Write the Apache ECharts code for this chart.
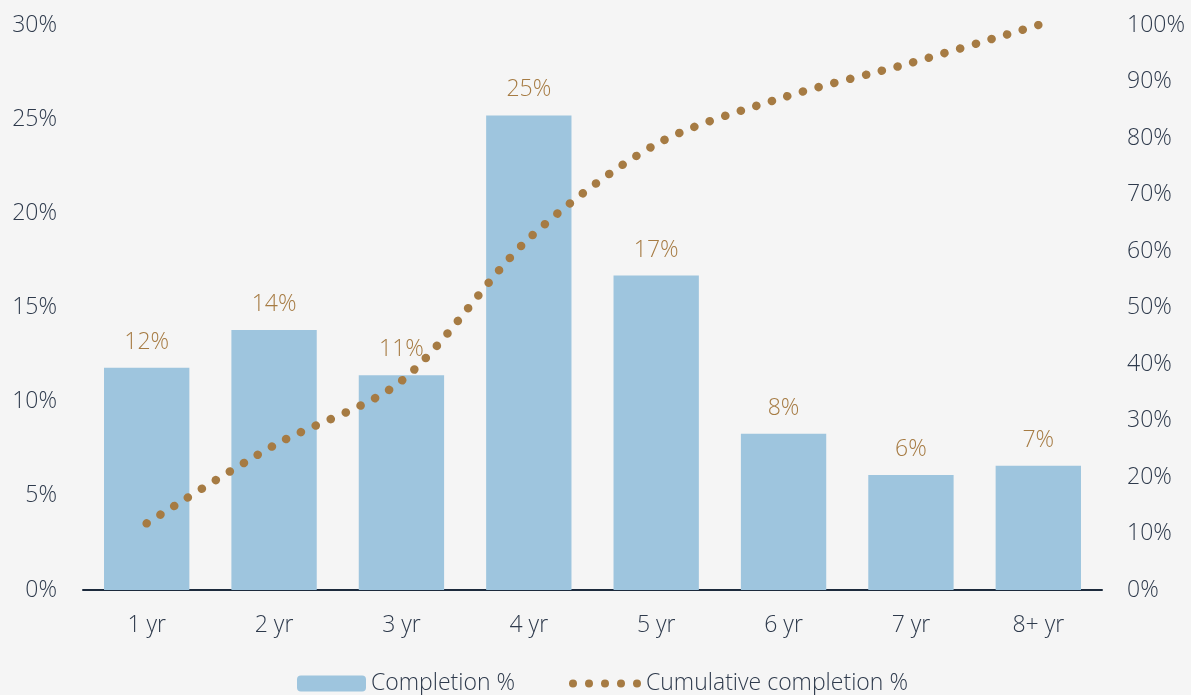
<!DOCTYPE html>
<html>
<head>
<meta charset="utf-8">
<script src="https://cdn.jsdelivr.net/npm/echarts@6/dist/echarts.min.js"></script>
<style>
  html, body { margin: 0; padding: 0; background: #f5f5f5; }
  #chart { width: 1191px; height: 695px; }
</style>
</head>
<body>
<div id="chart"></div>
<script>
// data
const categories = ['1 yr', '2 yr', '3 yr', '4 yr', '5 yr', '6 yr', '7 yr', '8+ yr'];
const completion = [11.8, 13.8, 11.4, 25.2, 16.7, 8.3, 6.1, 6.6];
const cumulative = [11.8, 25.6, 37.0, 62.2, 78.9, 87.2, 93.3, 100];

const textColor = '#2e3a4c';
const barColor = '#9ec5de';
const lineColor = '#a67b43';
const font = 'Open Sans';
const fs = 23;

// five dots for the legend icon of the dotted line
let dotsPath = 'path://';
for (let i = 0; i < 5; i++) {
  const x = i * 16;
  dotsPath += `M${x},4a4,4 0 1,0 8,0a4,4 0 1,0 -8,0Z`;
}

const legendText = { color: textColor, fontSize: fs, fontFamily: font, fontWeight: 300 };

const chart = echarts.init(document.getElementById('chart'));
chart.setOption({
  backgroundColor: '#f5f5f5',
  textStyle: { fontFamily: font, fontWeight: 300 },
  grid: { left: 83, right: 89, top: 25, bottom: 105, containLabel: false },
  legend: [
    {
      left: 292, top: 667,
      itemWidth: 69, itemHeight: 16, itemGap: 8,
      textStyle: legendText,
      data: ['Completion %']
    },
    {
      left: 564, top: 667,
      itemWidth: 72, itemHeight: 8, itemGap: 7,
      textStyle: legendText,
      data: [{ name: 'Cumulative completion %', icon: dotsPath, itemStyle: { color: lineColor } }]
    }
  ],
  xAxis: {
    type: 'category', data: categories,
    axisLine: { lineStyle: { color: '#1c2a3c', width: 2 } },
    axisTick: { show: false },
    axisLabel: { color: textColor, fontSize: fs, fontWeight: 300, margin: 24 }
  },
  yAxis: [
    {
      type: 'value', min: 0, max: 30, interval: 5,
      splitLine: { show: false },
      axisLabel: { color: textColor, fontSize: fs, fontWeight: 300, margin: 26, formatter: '{value}%' }
    },
    {
      type: 'value', min: 0, max: 100, interval: 10,
      splitLine: { show: false },
      axisLabel: { color: textColor, fontSize: fs, fontWeight: 300, margin: 25, formatter: '{value}%' }
    }
  ],
  series: [
    {
      name: 'Completion %', type: 'bar', data: completion,
      barCategoryGap: '33%',
      itemStyle: { color: barColor },
      label: {
        show: true, position: 'top', distance: 14,
        color: lineColor, fontSize: fs, fontWeight: 300,
        formatter: p => Math.round(p.value) + '%'
      }
    },
    {
      name: 'Cumulative completion %', type: 'line', yAxisIndex: 1, data: cumulative,
      smooth: 0.3, symbol: 'none',
      itemStyle: { color: lineColor },
      lineStyle: { color: lineColor, width: 8.5, type: [0.1, 16.2], cap: 'round' },
      z: 5
    }
  ]
});
</script>
</body>
</html>
